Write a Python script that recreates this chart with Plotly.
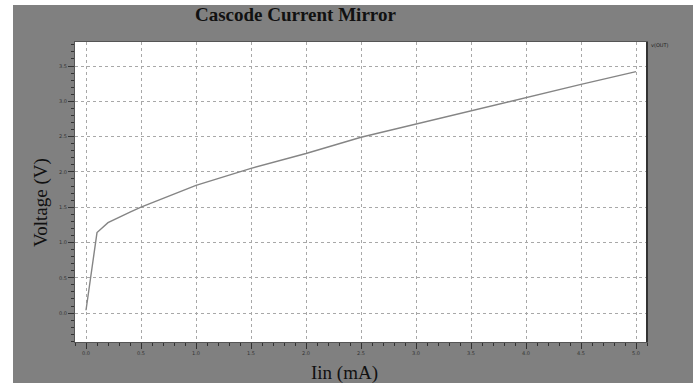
import plotly.graph_objects as go

# Data
iin_ma = [0.0, 0.1, 0.2, 0.3, 0.4, 0.5, 0.75, 1.0, 1.5, 2.0, 2.5, 3.0, 3.5, 4.0, 4.5, 5.0]
v_out = [0.04, 1.14, 1.28, 1.36, 1.43, 1.50, 1.66, 1.81, 2.05, 2.26, 2.49, 2.68, 2.87, 3.06, 3.24, 3.42]
x_ticks = [0.0, 0.5, 1.0, 1.5, 2.0, 2.5, 3.0, 3.5, 4.0, 4.5, 5.0]
y_ticks = [0.0, 0.5, 1.0, 1.5, 2.0, 2.5, 3.0, 3.5]

W, H = 693, 383
L, R, T, B = 75, 647, 42, 342
PW, PH = R - L, B - T


def px(x):
    return (x - L) / PW


def py(y):
    return (B - y) / PH


fig = go.Figure()
fig.add_trace(go.Scatter(x=iin_ma, y=v_out, mode="lines",
                         line=dict(color="#858585", width=1.4),
                         showlegend=False, hoverinfo="skip"))

serif = "Liberation Serif, Times New Roman, serif"

axis_common = dict(
    showgrid=True, gridcolor="#a8a8a8", gridwidth=1, griddash="dot",
    zeroline=False, showline=True, linecolor="#555555", linewidth=1, mirror=True,
    ticks="outside", ticklen=6, tickcolor="#333333", tickwidth=1,
    tickfont=dict(size=5, color="#333333", family="DejaVu Sans"),
    tickformat=".1f",
)

fig.update_xaxes(range=[-0.1, 5.1], tickvals=x_ticks,
                 minor=dict(dtick=0.1, tick0=0, ticks="outside", ticklen=3,
                            tickcolor="#333333", showgrid=False),
                 **axis_common)
fig.update_yaxes(range=[-0.41, 3.84], tickvals=y_ticks,
                 minor=dict(dtick=0.1, tick0=0, ticks="outside", ticklen=3,
                            tickcolor="#333333", showgrid=False),
                 **axis_common)

shapes = [
    dict(type="rect", xref="paper", yref="paper", layer="below",
         x0=px(13), x1=px(700), y0=py(390), y1=py(5),
         fillcolor="#808080", line=dict(width=0)),
    dict(type="rect", xref="paper", yref="paper", layer="below",
         x0=0, x1=1, y0=0, y1=1, fillcolor="white", line=dict(width=0)),
    # darker right-hand frame edge as in the reference
    dict(type="line", xref="paper", yref="paper", layer="above",
         x0=1, x1=1, y0=0, y1=1, line=dict(color="#333333", width=2)),
]

annotations = [
    dict(text="<b>Cascode Current Mirror</b>", xref="paper", yref="paper",
         x=px(295), y=py(14), xanchor="center", yanchor="middle", showarrow=False,
         font=dict(family=serif, size=19, color="#111111")),
    dict(text="Voltage (V)", xref="paper", yref="paper", textangle=-90,
         x=px(41), y=py(203), xanchor="center", yanchor="middle", showarrow=False,
         font=dict(family=serif, size=19, color="#111111")),
    dict(text="Iin (mA)", xref="paper", yref="paper",
         x=px(344), y=py(373), xanchor="center", yanchor="middle", showarrow=False,
         font=dict(family=serif, size=19, color="#111111")),
    dict(text="v(OUT)", xref="paper", yref="paper",
         x=px(649), y=py(45), xanchor="left", yanchor="middle", showarrow=False,
         font=dict(family="DejaVu Sans", size=5, color="#222222")),
]

fig.update_layout(
    width=W, height=H,
    margin=dict(l=L, r=W - R, t=T, b=H - B, pad=0),
    paper_bgcolor="white", plot_bgcolor="rgba(0,0,0,0)",
    shapes=shapes, annotations=annotations, showlegend=False,
)

fig.write_html("out.html", config={"displayModeBar": False},
               post_script="document.body.style.margin='0';document.body.style.overflow='hidden';")
